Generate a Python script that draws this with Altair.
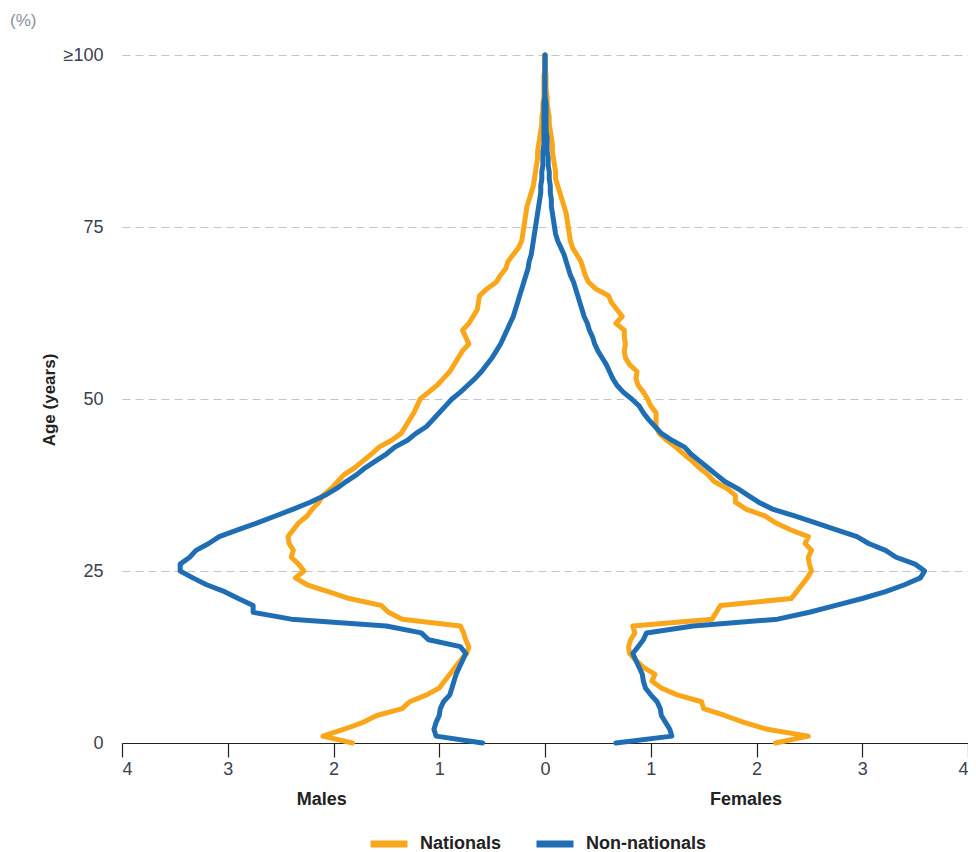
import altair as alt
import pandas as pd

ages = list(range(0, 101))

males_nationals = [
    1.82, 2.10, 1.90, 1.72, 1.59, 1.35, 1.28, 1.12, 1.00, 0.95,
    0.90, 0.85, 0.80, 0.74, 0.72, 0.75, 0.77, 0.80, 1.35, 1.48,
    1.55, 1.85, 2.05, 2.25, 2.36, 2.28, 2.33, 2.40, 2.38, 2.42,
    2.43, 2.38, 2.33, 2.25, 2.20, 2.14, 2.10, 2.02, 1.96, 1.90,
    1.80, 1.72, 1.64, 1.57, 1.45, 1.36, 1.32, 1.28, 1.24, 1.21,
    1.18, 1.10, 1.02, 0.96, 0.90, 0.86, 0.82, 0.78, 0.72, 0.75,
    0.78, 0.72, 0.68, 0.64, 0.63, 0.62, 0.55, 0.46, 0.42, 0.37,
    0.35, 0.30, 0.25, 0.22, 0.21, 0.20, 0.19, 0.18, 0.17, 0.15,
    0.13, 0.11, 0.10, 0.09, 0.08, 0.07, 0.07, 0.06, 0.05, 0.04,
    0.03, 0.03, 0.02, 0.02, 0.01, 0.01, 0.01, 0.01, 0.00, 0.00,
    0.00,
]

males_non_nationals = [
    0.59, 1.03, 1.05, 1.03, 1.00, 0.99, 0.96, 0.90, 0.88, 0.86,
    0.84, 0.81, 0.78, 0.75, 0.80, 1.10, 1.17, 1.50, 2.40, 2.76,
    2.76, 2.90, 3.03, 3.20, 3.33, 3.45, 3.45, 3.36, 3.30, 3.18,
    3.08, 2.90, 2.72, 2.55, 2.38, 2.22, 2.08, 1.97, 1.88, 1.78,
    1.70, 1.60, 1.50, 1.42, 1.30, 1.22, 1.12, 1.06, 1.00, 0.94,
    0.88, 0.80, 0.73, 0.66, 0.60, 0.55, 0.50, 0.46, 0.42, 0.39,
    0.36, 0.33, 0.30, 0.28, 0.26, 0.24, 0.22, 0.20, 0.18, 0.16,
    0.15, 0.13, 0.12, 0.11, 0.10, 0.09, 0.08, 0.07, 0.06, 0.05,
    0.04, 0.04, 0.03, 0.03, 0.02, 0.02, 0.02, 0.01, 0.01, 0.01,
    0.01, 0.01, 0.01, 0.01, 0.00, 0.00, 0.00, 0.00, 0.00, 0.00,
    0.00,
]

females_nationals = [
    2.18, 2.49, 2.10, 1.88, 1.70, 1.50, 1.48, 1.25, 1.10, 1.01,
    1.04, 0.93, 0.86, 0.80, 0.79, 0.81, 0.85, 0.83, 1.58, 1.62,
    1.66, 2.33, 2.38, 2.43, 2.48, 2.52, 2.50, 2.49, 2.52, 2.46,
    2.49, 2.32, 2.18, 2.08, 1.90, 1.80, 1.80, 1.72, 1.60, 1.54,
    1.46, 1.39, 1.31, 1.24, 1.15, 1.08, 1.05, 1.05, 1.05, 1.00,
    0.97, 0.93, 0.88, 0.86, 0.87, 0.80, 0.76, 0.75, 0.76, 0.75,
    0.75, 0.67, 0.73, 0.68, 0.63, 0.60, 0.48, 0.41, 0.38, 0.36,
    0.34, 0.30, 0.26, 0.24, 0.23, 0.22, 0.21, 0.20, 0.18, 0.16,
    0.14, 0.12, 0.10, 0.10, 0.09, 0.08, 0.07, 0.07, 0.06, 0.05,
    0.04, 0.04, 0.03, 0.02, 0.02, 0.01, 0.01, 0.01, 0.00, 0.00,
    0.00,
]

females_non_nationals = [
    0.67, 1.20, 1.18, 1.14, 1.10, 1.09, 1.06, 1.00, 0.95, 0.93,
    0.92, 0.89, 0.86, 0.83, 0.88, 0.93, 0.96, 1.40, 2.20, 2.50,
    2.75, 3.00, 3.22, 3.40, 3.55, 3.59, 3.50, 3.32, 3.22, 3.06,
    2.95, 2.75, 2.56, 2.36, 2.15, 2.02, 1.92, 1.82, 1.70, 1.62,
    1.54, 1.46, 1.38, 1.32, 1.20, 1.10, 1.04, 0.98, 0.93, 0.89,
    0.82, 0.74, 0.68, 0.64, 0.61, 0.58, 0.54, 0.50, 0.47, 0.45,
    0.42, 0.40, 0.37, 0.35, 0.33, 0.31, 0.29, 0.27, 0.24, 0.22,
    0.20, 0.18, 0.15, 0.12, 0.10, 0.09, 0.08, 0.07, 0.06, 0.06,
    0.05, 0.05, 0.04, 0.04, 0.03, 0.03, 0.02, 0.02, 0.02, 0.01,
    0.01, 0.01, 0.01, 0.01, 0.00, 0.00, 0.00, 0.00, 0.00, 0.00,
    0.00,
]

series_names = ["Nationals", "Non-nationals"]
series_colors = ["#FAA61A", "#1F6EB4"]
x_ticks = [-4, -3, -2, -1, 0, 1, 2, 3, 4]
y_ticks = [0, 25, 50, 75, 100]
sex_label_x = [-2.11, 1.9]
sex_label_text = ["Males", "Females"]

rows = []
for a, m_n, m_nn, f_n, f_nn in zip(ages, males_nationals, males_non_nationals,
                                   females_nationals, females_non_nationals):
    rows.append({"age": a, "value": -m_n, "series": "Nationals", "sex": "Males"})
    rows.append({"age": a, "value": -m_nn, "series": "Non-nationals", "sex": "Males"})
    rows.append({"age": a, "value": f_n, "series": "Nationals", "sex": "Females"})
    rows.append({"age": a, "value": f_nn, "series": "Non-nationals", "sex": "Females"})
df = pd.DataFrame(rows)

FONT = "Liberation Sans, Arial, sans-serif"

lines = alt.Chart(df).mark_line(
    strokeWidth=5, strokeJoin="round", strokeCap="round"
).encode(
    x=alt.X("value:Q",
            scale=alt.Scale(domain=[-4, 4], nice=False, zero=False),
            axis=alt.Axis(values=x_ticks, labelExpr="abs(datum.value)", title=None,
                          grid=False, tickSize=14, tickColor="#222", domainColor="#222",
                          tickWidth=1.2, domainWidth=1.2,
                          labelPadding=3, labelFontSize=18, labelColor="#3a4050",
                          labelFont=FONT)),
    y=alt.Y("age:Q",
            scale=alt.Scale(domain=[0, 100], nice=False),
            axis=alt.Axis(values=y_ticks,
                          labelExpr="datum.value == 100 ? '≥100' : datum.label",
                          title=None, domain=False, ticks=False, grid=True,
                          gridDash=[8, 5], gridColor="#c4c4c4", gridWidth=1,
                          labelPadding=19, labelFontSize=18, labelColor="#3a4050",
                          labelFont=FONT)),
    color=alt.Color("series:N",
                    scale=alt.Scale(domain=series_names, range=series_colors),
                    legend=alt.Legend(title=None, orient="none", direction="horizontal",
                                      legendX=245, legendY=767, padding=0,
                                      symbolType="stroke", symbolStrokeWidth=7,
                                      symbolSize=1369, labelFontSize=18,
                                      labelFontWeight="bold", labelColor="#222",
                                      labelFont=FONT, columnPadding=20,
                                      labelOffset=9)),
    detail="sex:N",
    order="age:Q",
)

sex_labels = alt.Chart(pd.DataFrame({
    "x": sex_label_x, "t": sex_label_text
})).mark_text(fontWeight="bold", fontSize=18, font=FONT, color="#222").encode(
    x="x:Q", y=alt.value(745), text="t:N"
)

y_title = alt.Chart(pd.DataFrame({"t": ["Age (years)"]})).mark_text(
    angle=270, fontWeight="bold", fontSize=17, font=FONT, color="#222"
).encode(x=alt.value(-72), y=alt.value(345), text="t:N")

pct = alt.Chart(pd.DataFrame({"t": ["(%)"]})).mark_text(
    align="left", fontSize=17, font=FONT, color="#8a8f9c"
).encode(x=alt.value(-112), y=alt.value(-34), text="t:N")

chart = alt.layer(lines, sex_labels, y_title, pct).properties(
    width=846, height=688,
    autosize=alt.AutoSizeParams(type="none"),
    padding={"left": 114, "top": 47, "right": 0, "bottom": 120},
).configure_view(stroke=None)

chart.save("out.html", embed_options={"renderer": "svg", "actions": False})
